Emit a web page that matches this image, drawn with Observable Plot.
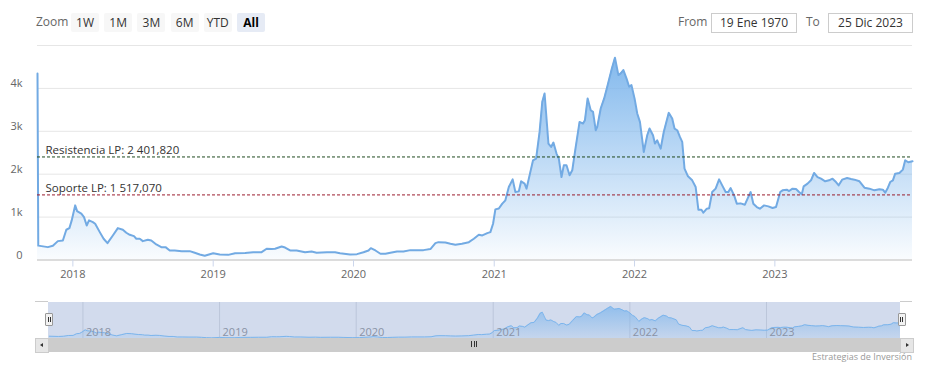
<!DOCTYPE html>
<html><head><meta charset="utf-8">
<script src="https://cdn.jsdelivr.net/npm/d3@7"></script>
<script src="https://cdn.jsdelivr.net/npm/@observablehq/plot@0.6"></script>
<style>
body{margin:0;background:#fff;font-family:"Open Sans",sans-serif;}
#wrap{position:relative;width:926px;height:367px;overflow:hidden;background:#fff;}
.a{position:absolute;}
.btn{position:absolute;top:13px;width:28px;height:19px;background:#f7f7f7;border-radius:2px;font-size:12px;color:#333;text-align:center;line-height:19px;}
.btn.sel{background:#e6ebf5;font-weight:bold;color:#000;}
.lbl{position:absolute;top:12px;font-size:12px;color:#666;line-height:20px;}
.box{position:absolute;top:13px;height:18px;border:1px solid #cccccc;font-size:12px;color:#333;text-align:center;line-height:18px;background:#fff;}
svg{overflow:visible;}
</style></head><body><div id="wrap"></div>
<script>
const dates = ["2017-10-01","2017-10-03","2017-10-28","2017-11-10","2017-11-23","2017-12-06","2017-12-15","2017-12-23","2017-12-29",
"2018-01-07","2018-01-12","2018-01-23","2018-01-30","2018-02-06","2018-02-12","2018-02-22","2018-02-28","2018-03-12","2018-03-22",
"2018-04-01","2018-04-15","2018-04-28","2018-05-11","2018-05-20","2018-05-29","2018-06-09","2018-06-15","2018-06-24","2018-07-02",
"2018-07-15","2018-07-24","2018-08-06","2018-08-19","2018-08-30","2018-09-10","2018-09-23","2018-10-11","2018-11-01","2018-11-14",
"2018-11-27","2018-12-10","2019-01-01","2019-01-18","2019-02-09","2019-02-27","2019-03-25","2019-04-15","2019-05-07","2019-05-20",
"2019-06-02","2019-06-11","2019-06-28","2019-07-07","2019-07-20","2019-08-06","2019-08-28","2019-09-14","2019-09-27","2019-10-24",
"2019-11-14","2019-11-27","2019-12-23","2020-01-10","2020-01-27","2020-02-09","2020-02-15","2020-02-27","2020-03-11","2020-03-24",
"2020-04-06","2020-04-23","2020-05-10","2020-05-28","2020-06-14","2020-07-01","2020-07-19","2020-08-01","2020-08-09","2020-08-27",
"2020-09-09","2020-09-22","2020-10-09","2020-10-27","2020-11-09","2020-11-22","2020-12-01","2020-12-14","2020-12-22","2020-12-29",
"2021-01-04","2021-01-13","2021-01-22","2021-01-30","2021-02-08","2021-02-18","2021-02-25","2021-03-06","2021-03-12","2021-03-21",
"2021-03-26","2021-04-04","2021-04-12","2021-04-20","2021-04-29","2021-05-06","2021-05-12","2021-05-17","2021-05-22","2021-05-29",
"2021-06-04","2021-06-12","2021-06-18","2021-06-25","2021-07-01","2021-07-08","2021-07-16","2021-07-23","2021-08-01","2021-08-11",
"2021-08-20","2021-08-25","2021-09-01","2021-09-09","2021-09-15","2021-09-22","2021-09-26","2021-10-05","2021-10-14","2021-10-22",
"2021-11-03","2021-11-11","2021-11-20","2021-11-26","2021-12-03","2021-12-11","2021-12-18","2021-12-24","2022-01-01","2022-01-08",
"2022-01-15","2022-01-25","2022-02-03","2022-02-09","2022-02-18","2022-02-23","2022-03-01","2022-03-10","2022-03-18","2022-03-31",
"2022-04-09","2022-04-15","2022-04-22","2022-04-29","2022-05-05","2022-05-11","2022-05-20","2022-05-31","2022-06-09","2022-06-16",
"2022-06-24","2022-06-29","2022-07-08","2022-07-14","2022-07-22","2022-07-31","2022-08-09","2022-08-17","2022-08-26","2022-09-02",
"2022-09-08","2022-09-17","2022-09-24","2022-10-04","2022-10-15","2022-10-22","2022-10-30","2022-11-06","2022-11-15","2022-11-23",
"2022-12-04","2022-12-15","2022-12-26","2023-01-04","2023-01-15","2023-01-21","2023-02-01","2023-02-07","2023-02-16","2023-02-25",
"2023-03-05","2023-03-12","2023-03-17","2023-03-27","2023-04-05","2023-04-13","2023-04-22","2023-05-01","2023-05-12","2023-05-22",
"2023-05-31","2023-06-09","2023-06-16","2023-06-25","2023-07-08","2023-07-18","2023-07-27","2023-08-09","2023-08-22","2023-09-04",
"2023-09-17","2023-09-30","2023-10-09","2023-10-15","2023-10-22","2023-10-28","2023-11-04","2023-11-10","2023-11-21","2023-11-30",
"2023-12-06","2023-12-14","2023-12-25"];
const prices = [4350,335,300,330,440,455,705,743,923,
1273,1140,1080,1000,805,923,883,845,650,495,
393,572,743,705,635,588,556,495,495,440,
472,455,362,300,300,222,222,206,206,168,
128,98,159,128,120,159,166,182,182,262,
255,262,315,290,222,222,182,198,168,182,
182,159,128,136,182,222,276,222,145,145,
168,198,198,230,230,230,255,393,416,408,
378,355,378,416,495,588,572,626,650,845,
1180,1200,1313,1390,1700,1880,1584,1600,1834,1780,
1663,2014,2324,2364,2985,3686,3882,3298,2714,2635,
2738,2481,2364,1934,2207,2207,1974,2091,2635,3219,
3181,3260,3766,3492,3453,3025,3103,3532,3766,4037,
4466,4714,4310,4349,4427,4233,4037,4076,3766,3415,
3219,2518,2908,3064,2908,2714,2791,2597,2985,3430,
3298,3064,3025,2870,2753,2130,1950,1857,1701,1173,
1173,1103,1196,1204,1584,1663,1880,1740,1584,1584,
1677,1507,1313,1320,1289,1430,1584,1313,1235,1196,
1273,1250,1212,1235,1584,1624,1640,1608,1663,1655,
1584,1530,1717,1780,1857,2028,1934,1896,1834,1857,
1896,1818,1740,1873,1911,1888,1873,1834,1686,1663,
1624,1650,1640,1569,1686,1818,1857,2013,2028,2107,
2324,2278,2301];
const yTicks = [0, 1000, 2000, 3000, 4000];
const yGrid = [1000, 2000, 3000, 4000, 5000];
const yearTicks = ["2018-01-01","2019-01-01","2020-01-01","2021-01-01","2022-01-01","2023-01-01"];
const resistance = 2401.82;
const support = 1517.07;
const rangeButtons = ["1W","1M","3M","6M","YTD","All"];
const fromDate = "19 Ene 1970";
const toDate = "25 Dic 2023";
const credits = "Estrategias de Inversión";

const data = dates.map((d, i) => ({date: new Date(d), price: prices[i]}));
const years = yearTicks.map(d => new Date(d));
const domainX = [new Date(dates[0]), new Date(dates[dates.length - 1])];
const esFmt = d3.formatLocale({decimal: ",", thousands: " ", grouping: [3]}).format(",.3f");
const plotLines = [
  {v: resistance, t: "Resistencia LP: " + esFmt(resistance), c: "#1f4a1f"},
  {v: support, t: "Soporte LP: " + esFmt(support), c: "#9a1b2e"}
];

function gradient(id, top, bottom) {
  return () => {
    const defs = d3.create("svg:defs");
    const g = defs.append("linearGradient").attr("id", id).attr("x1", 0).attr("y1", 0).attr("x2", 0).attr("y2", 1);
    g.append("stop").attr("offset", "0%").attr("stop-color", "#7cb5ec").attr("stop-opacity", top);
    g.append("stop").attr("offset", "100%").attr("stop-color", "#7cb5ec").attr("stop-opacity", bottom);
    return defs.node();
  };
}

const wrap = document.getElementById("wrap");

const main = Plot.plot({
  width: 926, height: 290,
  marginLeft: 37, marginRight: 14, marginTop: 45, marginBottom: 30.5,
  style: {fontFamily: "'Open Sans', sans-serif", fontSize: "11px", background: "transparent"},
  x: {type: "utc", domain: domainX},
  y: {domain: [0, 5000]},
  marks: [
    gradient("mainGrad", 0.95, 0.04),
    Plot.ruleY(yGrid, {stroke: "#e6e6e6", strokeWidth: 1}),
    Plot.areaY(data, {x: "date", y: "price", fill: "url(#mainGrad)", curve: "linear"}),
    Plot.lineY(data, {x: "date", y: "price", stroke: "#72aae3", strokeWidth: 2, curve: "linear"}),
    Plot.ruleY(plotLines, {y: "v", stroke: "c", strokeWidth: 1, strokeDasharray: "3,2"}),
    Plot.text(plotLines, {y: "v", text: "t", frameAnchor: "left", dx: 8, dy: -3, lineAnchor: "bottom", textAnchor: "start", fill: "#333", fontSize: 11.5}),
    Plot.ruleY([0], {stroke: "#dcdcdc", strokeWidth: 2}),
    Plot.axisY(yTicks, {tickSize: 0, tickPadding: 15, dy: -5, fill: "#666", fontSize: 11, label: null,
      tickFormat: d => d === 0 ? "0" : (d / 1000) + "k"}),
    Plot.axisX(years, {tickSize: 7, tickPadding: 3, stroke: "#ccd6eb", fill: "#666", fontSize: 11, label: null, tickFormat: d3.utcFormat("%Y")})
  ]
});
main.style.position = "absolute"; main.style.left = "0px"; main.style.top = "0px";
wrap.appendChild(main);

// header
const zl = document.createElement("div"); zl.className = "lbl"; zl.style.left = "36px"; zl.textContent = "Zoom"; wrap.appendChild(zl);
rangeButtons.forEach((b, i) => {
  const e = document.createElement("div");
  e.className = "btn" + (b === "All" ? " sel" : "");
  e.style.left = (71 + i * 33.2) + "px";
  e.textContent = b;
  wrap.appendChild(e);
});
const fl = document.createElement("div"); fl.className = "lbl"; fl.style.left = "678px"; fl.textContent = "From"; wrap.appendChild(fl);
const fb = document.createElement("div"); fb.className = "box"; fb.style.left = "711px"; fb.style.width = "84px"; fb.textContent = fromDate; wrap.appendChild(fb);
const tl = document.createElement("div"); tl.className = "lbl"; tl.style.left = "806px"; tl.textContent = "To"; wrap.appendChild(tl);
const tb = document.createElement("div"); tb.className = "box"; tb.style.left = "828px"; tb.style.width = "83px"; tb.textContent = toDate; wrap.appendChild(tb);

// navigator background (mask)
const nbg = document.createElement("div"); nbg.className = "a";
Object.assign(nbg.style, {left: "48px", top: "302px", width: "852px", height: "36px", background: "#d2dbed"});
wrap.appendChild(nbg);
const ol1 = document.createElement("div"); ol1.className = "a";
Object.assign(ol1.style, {left: "35px", top: "301px", width: "13px", height: "1px", background: "#cccccc"});
wrap.appendChild(ol1);
const ol2 = document.createElement("div"); ol2.className = "a";
Object.assign(ol2.style, {left: "900px", top: "301px", width: "12px", height: "1px", background: "#cccccc"});
wrap.appendChild(ol2);

const nav = Plot.plot({
  width: 926, height: 60,
  marginLeft: 48, marginRight: 26, marginTop: 12, marginBottom: 12,
  style: {fontFamily: "'Open Sans', sans-serif", fontSize: "11px", background: "transparent"},
  x: {type: "utc", domain: domainX, axis: null},
  y: {domain: [0, 5300], axis: null},
  marks: [
    gradient("navGrad", 0.75, 0.15),
    Plot.ruleX(years, {stroke: "#bcc6da", strokeWidth: 1}),
    Plot.areaY(data.slice(1), {x: "date", y: "price", fill: "url(#navGrad)"}),
    Plot.lineY(data.slice(1), {x: "date", y: "price", stroke: "#7cb5ec", strokeWidth: 1}),
    Plot.text(years, {x: d => d, text: d => d3.utcFormat("%Y")(d), frameAnchor: "bottom", lineAnchor: "bottom", textAnchor: "start", dx: 3, dy: -3, fill: "#8a93a6", fontSize: 11})
  ]
});
nav.style.position = "absolute"; nav.style.left = "0px"; nav.style.top = "290px";
wrap.appendChild(nav);

// handles
[45, 897.5].forEach(x => {
  const h = document.createElement("div"); h.className = "a";
  Object.assign(h.style, {left: x + "px", top: "313px", width: "6px", height: "11px", background: "#f2f2f2", border: "1px solid #999", borderRadius: "1px"});
  [2, 4].forEach(dx => {
    const l = document.createElement("div"); l.className = "a";
    Object.assign(l.style, {left: (dx - 0.5) + "px", top: "3px", width: "1px", height: "5px", background: "#333"});
    h.appendChild(l);
  });
  wrap.appendChild(h);
});

// scrollbar
const thumb = document.createElement("div"); thumb.className = "a";
Object.assign(thumb.style, {left: "48px", top: "338px", width: "852px", height: "14px", background: "#cccccc"});
wrap.appendChild(thumb);
[[35, "l"], [900, "r"]].forEach(([x, dir]) => {
  const b = document.createElement("div"); b.className = "a";
  Object.assign(b.style, {left: x + "px", top: "338px", width: "12px", height: "13px", background: "#e6e6e6", border: "1px solid #cccccc"});
  const ar = document.createElement("div"); ar.className = "a";
  Object.assign(ar.style, {top: "4px", width: "0", height: "0", borderTop: "2.5px solid transparent", borderBottom: "2.5px solid transparent"});
  if (dir === "l") { ar.style.left = "4px"; ar.style.borderRight = "3px solid #333"; }
  else { ar.style.left = "5px"; ar.style.borderLeft = "3px solid #333"; }
  b.appendChild(ar);
  wrap.appendChild(b);
});
[471, 473.5, 476].forEach(x => {
  const g = document.createElement("div"); g.className = "a";
  Object.assign(g.style, {left: x + "px", top: "341px", width: "1px", height: "6px", background: "#333"});
  wrap.appendChild(g);
});

// credits
const cr = document.createElement("div"); cr.className = "a";
Object.assign(cr.style, {right: "14px", top: "351px", fontSize: "9px", color: "#999", lineHeight: "12px"});
cr.textContent = credits;
wrap.appendChild(cr);
</script>
</body></html>
